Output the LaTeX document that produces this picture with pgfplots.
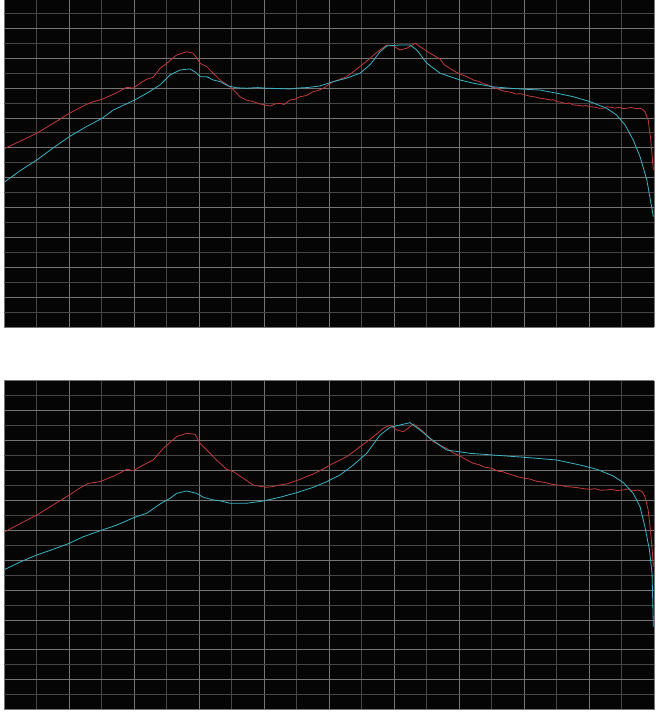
\documentclass[border=0pt]{standalone}
\usepackage{pgfplots}
\pgfplotsset{compat=1.18}

\definecolor{scopebg}{HTML}{050505}
\definecolor{gridmaj}{HTML}{757575}
\definecolor{gridmin}{HTML}{464646}
\definecolor{trace1}{HTML}{C23A3C}
\definecolor{trace2}{HTML}{3AB4C4}

\pgfplotsset{
  scope/.style={
    scale only axis,
    width=650bp,
    xmin=0, xmax=20,
    ymin=0,
    xtick={0,2,...,20}, minor xtick={1,3,...,19},
    ytick={0,2,...,22}, minor ytick={1,3,...,21},
    xticklabels={}, yticklabels={},
    major tick length=0pt, minor tick length=0pt,
    grid=both,
    major grid style={gridmaj, line width=0.9bp},
    minor grid style={gridmin, line width=0.9bp},
    axis line style={draw=none},
    axis background/.style={fill=scopebg},
    clip=true,
  },
  red trace/.style={trace1, line width=0.8bp, mark=none},
  cyan trace/.style={trace2, line width=0.8bp, mark=none},
}

\begin{document}
\begin{tikzpicture}
\path[use as bounding box, fill=white] (0,0) rectangle (658bp,714bp);

% upper capture
\begin{axis}[scope, at={(4bp,386.7bp)}, anchor=south west,
  height=327.3bp, ymax=21.89]
\addplot[red trace] coordinates {
(0.03,11.97) (0.50,12.45) (1.01,12.98) (1.50,13.62) (2.01,14.31) (2.35,14.70)
(2.65,15.02) (3.02,15.25) (3.40,15.62) (3.78,16.05) (3.98,15.99) (4.20,16.35)
(4.39,16.59) (4.59,16.72) (4.80,17.32) (5.01,17.66) (5.31,18.21) (5.62,18.43)
(5.82,18.33) (5.92,18.05) (6.03,17.66) (6.24,17.43) (6.44,16.99) (6.65,16.54)
(6.95,16.09) (7.10,15.80) (7.26,15.42) (7.45,15.20) (7.67,15.09) (7.85,14.95)
(8.03,14.87) (8.20,14.80) (8.35,14.95) (8.49,14.98) (8.62,14.90) (8.80,15.20)
(8.95,15.25) (9.11,15.42) (9.30,15.50) (9.52,15.76) (9.68,15.85) (9.83,15.99)
(10.00,16.25) (10.13,16.43) (10.30,16.55) (10.54,16.76) (10.75,17.10) (10.95,17.43)
(11.10,17.70) (11.26,17.99) (11.42,18.30) (11.57,18.55) (11.78,18.88) (11.98,18.82)
(12.18,18.55) (12.39,18.66) (12.65,19.00) (12.80,18.77) (12.95,18.55) (13.11,18.33)
(13.25,18.15) (13.42,17.93) (13.55,17.55) (13.72,17.32) (13.88,17.10) (14.03,16.94)
(14.20,16.80) (14.30,16.70) (14.44,16.54) (14.60,16.45) (14.75,16.30) (14.90,16.20)
(15.03,16.05) (15.15,16.00) (15.30,15.85) (15.47,15.76) (15.60,15.72) (15.75,15.60)
(15.90,15.62) (16.03,15.54) (16.20,15.45) (16.35,15.40) (16.49,15.32) (16.65,15.28)
(16.80,15.20) (16.90,15.22) (17.02,15.09) (17.15,15.05) (17.30,14.96) (17.40,15.00)
(17.52,14.87) (17.65,14.85) (17.80,14.80) (17.90,14.83) (18.03,14.76) (18.20,14.72)
(18.30,14.65) (18.44,14.65) (18.55,14.75) (18.65,14.72) (18.80,14.66) (18.95,14.72)
(19.05,14.62) (19.16,14.65) (19.30,14.70) (19.45,14.62) (19.57,14.65) (19.65,14.58)
(19.72,14.42) (19.82,13.87) (19.90,12.53) (19.98,10.52)
};
\addplot[cyan trace] coordinates {
(0.03,9.74) (0.50,10.48) (1.01,11.19) (1.50,11.98) (2.01,12.75) (2.50,13.38)
(3.02,13.98) (3.36,14.53) (4.02,15.20) (4.39,15.65) (4.80,16.21) (5.11,16.88)
(5.42,17.21) (5.72,17.28) (5.90,17.05) (6.03,16.76) (6.24,16.76) (6.44,16.54)
(6.65,16.43) (6.90,16.14) (7.15,16.02) (7.47,15.99) (7.80,16.03) (8.08,15.99)
(8.40,15.97) (8.80,15.94) (9.05,16.00) (9.31,16.03) (9.72,16.14) (10.13,16.43)
(10.54,16.66) (10.95,16.99) (11.26,17.55) (11.57,18.43) (11.78,18.82) (12.18,18.88)
(12.49,18.88) (12.70,18.55) (13.01,17.66) (13.42,16.99) (14.03,16.54) (14.50,16.30)
(15.02,16.09) (15.50,16.00) (16.03,15.92) (16.49,15.87) (17.02,15.65) (17.52,15.42)
(18.03,15.09) (18.54,14.65) (18.85,14.20) (19.11,13.53) (19.36,12.53) (19.57,11.41)
(19.78,9.85) (19.98,7.40)
};
\end{axis}

% lower capture
\begin{axis}[scope, at={(4bp,4.3bp)}, anchor=south west,
  height=328.9bp, ymax=22]
\addplot[red trace] coordinates {
(0.03,11.91) (0.50,12.45) (1.01,13.02) (1.50,13.68) (2.01,14.36) (2.30,14.78)
(2.59,15.14) (2.95,15.25) (3.40,15.65) (3.78,16.08) (3.98,15.99) (4.29,16.37)
(4.59,16.70) (4.90,17.48) (5.31,18.26) (5.62,18.49) (5.88,18.42) (6.03,17.82)
(6.34,17.15) (6.54,16.70) (6.85,16.08) (7.06,15.92) (7.36,15.48) (7.67,15.03)
(7.85,14.95) (8.08,14.88) (8.25,14.92) (8.49,15.03) (8.70,15.10) (8.90,15.25)
(9.10,15.40) (9.31,15.59) (9.50,15.75) (9.72,15.99) (9.90,16.20) (10.13,16.48)
(10.30,16.65) (10.54,16.92) (10.75,17.25) (10.95,17.59) (11.15,17.90) (11.36,18.26)
(11.50,18.50) (11.67,18.82) (11.88,19.04) (12.08,18.71) (12.29,18.60) (12.45,18.85)
(12.59,19.11) (12.75,18.85) (12.90,18.60) (13.05,18.25) (13.21,17.93) (13.40,17.70)
(13.62,17.48) (13.80,17.20) (14.03,16.97) (14.20,16.75) (14.44,16.48) (14.60,16.40)
(14.80,16.22) (15.01,16.15) (15.20,15.95) (15.35,15.92) (15.47,15.81) (15.65,15.70)
(15.85,15.55) (16.03,15.48) (16.20,15.42) (16.35,15.30) (16.49,15.25) (16.65,15.20)
(16.85,15.08) (17.01,15.03) (17.15,15.00) (17.30,14.92) (17.52,14.88) (17.65,14.85)
(17.85,14.78) (18.03,14.74) (18.20,14.78) (18.35,14.68) (18.54,14.70) (18.70,14.75)
(18.85,14.66) (19.06,14.70) (19.20,14.76) (19.35,14.64) (19.50,14.70) (19.57,14.65)
(19.65,14.55) (19.72,14.25) (19.82,13.36) (19.90,11.80) (19.96,10.23) (19.98,9.57)
};
\addplot[cyan trace] coordinates {
(0.03,9.39) (0.50,9.88) (1.01,10.35) (1.50,10.72) (2.01,11.13) (2.44,11.57)
(3.02,12.02) (3.47,12.35) (4.02,12.87) (4.39,13.14) (4.80,13.76) (5.11,14.14)
(5.31,14.47) (5.62,14.63) (5.93,14.47) (6.13,14.21) (6.44,14.03) (6.63,13.98)
(6.95,13.81) (7.47,13.81) (7.98,13.96) (8.49,14.21) (9.01,14.52) (9.52,14.88)
(9.93,15.25) (10.34,15.70) (10.75,16.37) (11.16,17.15) (11.57,18.37) (11.88,18.89)
(12.18,19.04) (12.49,19.20) (12.80,18.71) (13.11,18.15) (13.62,17.37) (14.34,17.15)
(15.01,17.04) (16.03,16.88) (17.01,16.70) (17.72,16.37) (18.24,16.08) (18.75,15.63)
(19.06,15.18) (19.36,14.47) (19.57,13.58) (19.72,12.24) (19.86,10.68) (19.94,9.12)
(19.96,7.34) (19.98,5.55)
};
\draw[gridmaj, line width=1bp] (axis cs:0,22) -- (axis cs:1.3,22);
\end{axis}
\end{tikzpicture}
\end{document}
